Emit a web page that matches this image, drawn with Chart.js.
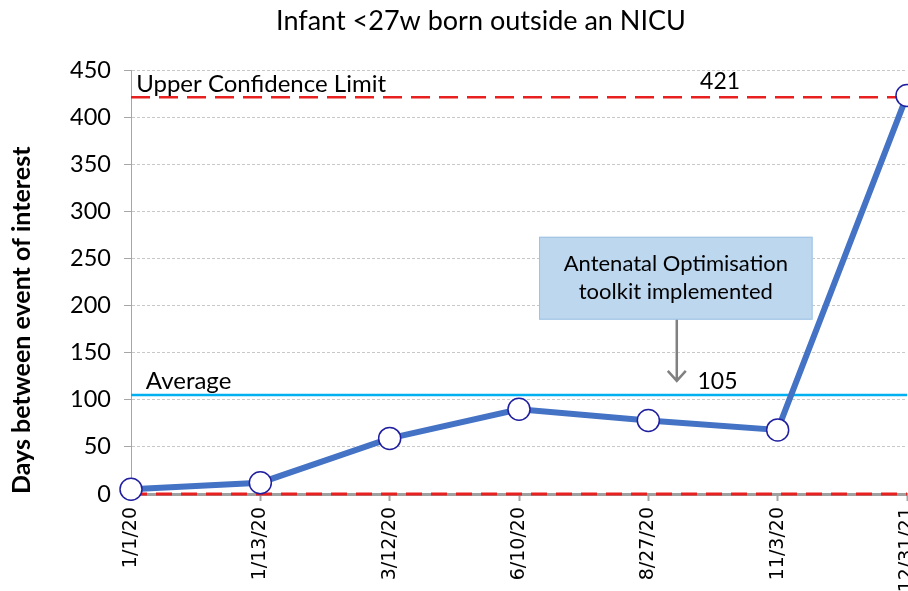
<!DOCTYPE html>
<html><head><meta charset="utf-8">
<script src="https://cdn.jsdelivr.net/npm/chart.js@4.4.0/dist/chart.umd.min.js"></script>
<style>
html,body{margin:0;padding:0;background:#fff;overflow:hidden;width:908px;height:591px}
canvas{display:block}
</style></head><body>
<canvas id="c" width="950" height="640"></canvas>
<script>
// ---- data ----
const chartTitle = "Infant <27w born outside an NICU";
const yAxisTitle = "Days between event of interest";
const categories = ["1/1/20", "1/13/20", "3/12/20", "6/10/20", "8/27/20", "11/3/20", "12/31/21"];
const daysBetween = [5, 12, 59, 90, 78, 68, 423];
const upperLimit = 421;
const averageValue = 105;
const lowerLimit = 0;
const yMin = 0, yMax = 450, yStep = 50;
const upperLabel = "Upper Confidence Limit";
const averageLabel = "Average";
const noteLines = ["Antenatal Optimisation", "toolkit implemented"];
// annotation placement in data units (category index, value)
const noteBox = { x0: 3.155, x1: 5.27, yTop: 273, yBottom: 185 };
const noteArrow = { x: 4.22, yFrom: 185, yTo: 120 };
const labelSpots = { upperName: 0.04, upperValue: 4.4, avgName: 0.115, avgValue: 4.38 };

const FONT = "Lato, 'Open Sans', sans-serif";

const overlay = {
  id: 'overlay',
  afterDraw(chart) {
    const { ctx, scales: { x, y } } = chart;
    ctx.save();
    // title
    ctx.fillStyle = '#000';
    ctx.font = `27px ${FONT}`;
    ctx.textAlign = 'center';
    ctx.textBaseline = 'middle';
    ctx.fillText(chartTitle, 481, 21);

    // limit labels
    ctx.font = `24px ${FONT}`;
    ctx.textAlign = 'left';
    ctx.textBaseline = 'alphabetic';
    const uy = y.getPixelForValue(upperLimit);
    ctx.fillText(upperLabel, x.getPixelForValue(labelSpots.upperName), uy - 5);
    ctx.font = `23px ${FONT}`;
    ctx.fillText(String(upperLimit), x.getPixelForValue(labelSpots.upperValue), uy - 8);
    const ay = y.getPixelForValue(averageValue);
    ctx.font = `24px ${FONT}`;
    ctx.fillText(averageLabel, x.getPixelForValue(labelSpots.avgName), ay - 6);
    ctx.font = `23px ${FONT}`;
    ctx.fillText(String(averageValue), x.getPixelForValue(labelSpots.avgValue), ay - 6);

    // note box
    const bx0 = x.getPixelForValue(noteBox.x0), bx1 = x.getPixelForValue(noteBox.x1);
    const by0 = y.getPixelForValue(noteBox.yTop), by1 = y.getPixelForValue(noteBox.yBottom);
    ctx.fillStyle = '#BDD7EE';
    ctx.fillRect(bx0, by0, bx1 - bx0, by1 - by0);
    ctx.strokeStyle = '#9DC3E6';
    ctx.lineWidth = 1;
    ctx.strokeRect(bx0 + 0.5, by0 + 0.5, bx1 - bx0 - 1, by1 - by0 - 1);
    ctx.fillStyle = '#000';
    ctx.font = `22px ${FONT}`;
    ctx.textAlign = 'center';
    ctx.textBaseline = 'middle';
    const cx = (bx0 + bx1) / 2, cy = (by0 + by1) / 2;
    ctx.fillText(noteLines[0], cx, cy - 14);
    ctx.fillText(noteLines[1], cx, cy + 14);

    // arrow
    const ax = x.getPixelForValue(noteArrow.x);
    const ay0 = y.getPixelForValue(noteArrow.yFrom), ay1 = y.getPixelForValue(noteArrow.yTo);
    ctx.strokeStyle = '#808080';
    ctx.lineWidth = 2.5;
    ctx.beginPath();
    ctx.moveTo(ax, ay0); ctx.lineTo(ax, ay1);
    ctx.moveTo(ax - 9, ay1 - 10); ctx.lineTo(ax, ay1); ctx.lineTo(ax + 9, ay1 - 10);
    ctx.stroke();
    ctx.restore();
  }
};

new Chart(document.getElementById('c'), {
  type: 'line',
  data: {
    labels: categories,
    datasets: [
      {
        label: 'Days',
        data: daysBetween,
        borderColor: '#4472C4',
        borderWidth: 6,
        pointRadius: 11,
        pointBackgroundColor: '#FFFFFF',
        pointBorderColor: '#1F1FA0',
        pointBorderWidth: 1.5,
        tension: 0,
        clip: false
      },
      {
        label: 'UCL',
        data: categories.map(() => upperLimit),
        borderColor: '#E8201F',
        borderWidth: 2.5,
        borderDash: [19, 9],
        pointRadius: 0
      },
      {
        label: 'Average',
        data: categories.map(() => averageValue),
        borderColor: '#00B0F0',
        borderWidth: 2.5,
        pointRadius: 0
      },
      {
        label: 'LCL',
        data: categories.map(() => lowerLimit),
        borderColor: '#E8201F',
        borderWidth: 3,
        borderDash: [16, 9],
        pointRadius: 0,
        clip: false
      }
    ]
  },
  options: {
    responsive: false,
    animation: false,
    layout: { padding: { top: 70, right: 43, left: 0, bottom: 0 } },
    plugins: { legend: { display: false }, title: { display: false }, tooltip: { enabled: false } },
    scales: {
      x: {
        offset: false,
        afterFit(s) { s.height = 146; },
        grid: { drawOnChartArea: false, tickLength: 7, tickColor: '#A6A6A6', tickWidth: 2 },
        border: { color: '#A0A0A0', width: 3 },
        ticks: {
          minRotation: 90, maxRotation: 90, autoSkip: false, padding: 6,
          color: '#000', font: { family: "'DejaVu Sans', sans-serif", size: 19 }
        }
      },
      y: {
        min: yMin, max: yMax,
        afterFit(s) { s.width = 131; },
        grid: { color: '#C8C8C8', lineWidth: 1, tickLength: 7, tickColor: '#A6A6A6', tickBorderDash: [] },
        border: { color: '#A6A6A6', width: 1, dash: [3, 2] },
        ticks: { stepSize: yStep, padding: 13, color: '#000', font: { family: FONT, size: 23.5 } },
        title: {
          display: true, text: yAxisTitle, align: 'start', color: '#000',
          font: { family: FONT, size: 25, weight: 'bold' }, padding: { top: 7, bottom: 0 }
        }
      }
    }
  },
  plugins: [overlay]
});
</script>
</body></html>
